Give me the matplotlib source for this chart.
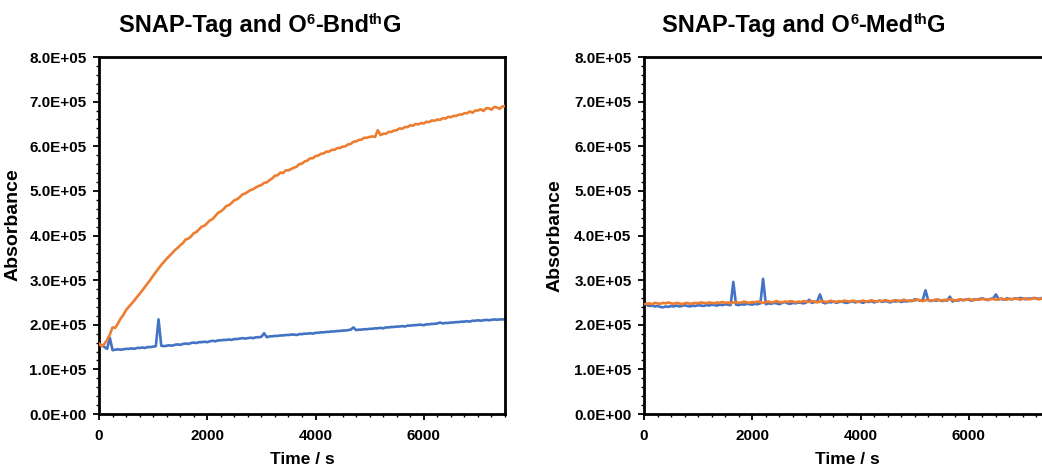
import numpy as np
import matplotlib
matplotlib.use("Agg")
import matplotlib.pyplot as plt
from matplotlib.ticker import MultipleLocator, FuncFormatter

plt.rcParams["font.family"] = ["Liberation Sans", "DejaVu Sans"]
plt.rcParams["font.weight"] = "bold"

# sampling times (s), one reading every 50 s
time_s = np.arange(0, 7501, 50)

# absorbance readings in thousands
bnd_blue = [
    158, 154, 150, 146, 171, 143, 144, 145, 144, 145,
    146, 146, 147, 146, 148, 148, 149, 148, 150, 150,
    151, 152, 212, 153, 152, 153, 154, 153, 155, 156,
    155, 157, 158, 157, 159, 160, 159, 161, 161, 162,
    161, 163, 164, 163, 165, 165, 166, 166, 167, 166,
    168, 168, 169, 170, 169, 170, 171, 170, 172, 172,
    173, 181, 172, 174, 174, 175, 175, 176, 176, 177,
    177, 178, 178, 177, 179, 179, 180, 180, 181, 180,
    182, 182, 183, 183, 184, 184, 185, 185, 186, 186,
    187, 187, 188, 189, 194, 188, 189, 189, 190, 190,
    191, 191, 192, 192, 193, 192, 194, 194, 195, 195,
    196, 196, 197, 196, 198, 198, 199, 199, 200, 200,
    199, 201, 201, 202, 202, 203, 205, 203, 204, 204,
    205, 205, 206, 206, 207, 207, 208, 207, 209, 209,
    210, 209, 210, 211, 210, 211, 212, 211, 212, 212,
    212,
]
bnd_orange = [
    158, 152, 157, 166, 178, 194, 193, 203, 214, 222,
    233, 240, 247, 254, 262, 269, 277, 285, 293, 301,
    310, 318, 326, 334, 341, 348, 354, 360, 367, 372,
    378, 383, 391, 393, 398, 405, 408, 414, 420, 422,
    428, 434, 437, 444, 451, 454, 459, 466, 468, 473,
    479, 481, 486, 492, 494, 498, 502, 504, 508, 511,
    513, 518, 519, 524, 528, 534, 535, 541, 540, 546,
    546, 549, 552, 554, 560, 561, 566, 568, 573, 573,
    578, 579, 583, 584, 588, 588, 592, 592, 596, 596,
    599, 600, 604, 605, 610, 611, 614, 615, 619, 619,
    621, 622, 621, 636, 625, 628, 628, 632, 632, 635,
    636, 640, 639, 643, 643, 647, 646, 650, 649, 652,
    651, 655, 654, 658, 657, 660, 659, 663, 662, 666,
    665, 668, 668, 671, 671, 674, 674, 678, 675, 680,
    680, 683, 679, 685, 685, 682, 688, 687, 684, 689,
    690,
]
med_blue = [
    252, 244, 242, 243, 241, 242, 240, 239, 241, 240,
    242, 241, 243, 241, 242, 244, 242, 241, 243, 242,
    244, 243, 242, 244, 243, 245, 244, 243, 245, 244,
    246, 245, 244, 296, 245, 244, 246, 245, 247, 246,
    245, 247, 246, 248, 303, 246, 248, 247, 249, 248,
    246, 249, 251, 248, 247, 249, 248, 250, 249, 248,
    250, 256, 249, 251, 252, 268, 250, 248, 251, 250,
    252, 249, 251, 252, 250, 249, 251, 253, 250, 252,
    251, 249, 252, 251, 253, 250, 252, 254, 251, 253,
    252, 250, 253, 252, 254, 251, 253, 252, 254, 253,
    257, 256, 254, 256, 277, 255, 253, 255, 254, 256,
    253, 255, 254, 263, 252, 255, 254, 256, 255, 257,
    256, 254, 257, 256, 258, 259, 257, 256, 258, 259,
    268, 257, 258, 256, 259, 258, 257, 259, 258, 260,
    259, 257, 259, 258, 260, 259, 258, 260, 259, 258,
    259,
]
med_orange = [
    246, 247, 248, 246, 249, 248, 247, 249, 248, 250,
    248, 247, 249, 248, 246, 248, 249, 247, 248, 249,
    248, 250, 249, 248, 250, 249, 248, 250, 249, 251,
    249, 250, 248, 250, 251, 249, 250, 252, 250, 249,
    251, 250, 252, 251, 249, 251, 252, 250, 251, 253,
    251, 250, 252, 251, 253, 252, 250, 252, 251, 253,
    252, 251, 253, 252, 250, 252, 253, 251, 252, 254,
    252, 251, 253, 252, 254, 253, 252, 254, 253, 251,
    253, 254, 252, 253, 255, 253, 252, 254, 253, 255,
    254, 252, 254, 255, 253, 254, 256, 254, 253, 255,
    254, 256, 255, 253, 255, 256, 254, 255, 257, 255,
    254, 256, 255, 257, 256, 254, 256, 257, 255, 256,
    258, 256, 255, 257, 256, 258, 257, 255, 257, 258,
    256, 257, 259, 257, 256, 258, 257, 259, 258, 256,
    258, 259, 257, 258, 260, 258, 257, 259, 258, 257,
    259,
]

# title pieces: (text, superscript?)
title_bnd = [("SNAP-Tag and O", False), ("6", True), ("-Bnd", False), ("th", True), ("G", False)]
title_med = [("SNAP-Tag and O", False), ("6", True), ("-Med", False), ("th", True), ("G", False)]
blue = "#4472C4"
orange = "#ED7D31"

FIG_W, FIG_H = 1042, 465
fig = plt.figure(figsize=(FIG_W / 100, FIG_H / 100), dpi=100)
W, H = 406 / FIG_W, 357 / FIG_H
bottom = 1 - 414 / FIG_H
ax1 = fig.add_axes([99 / FIG_W, bottom, W, H])
ax2 = fig.add_axes([644 / FIG_W, bottom, W, H])

sci = FuncFormatter(lambda v, p: f"{v:.1E}")

panels = [(ax1, bnd_blue, bnd_orange), (ax2, med_blue, med_orange)]
for ax, b, o in panels:
    ax.plot(time_s, np.array(b) * 1e3, color=blue, lw=1.9, zorder=2)
    ax.plot(time_s, np.array(o) * 1e3, color=orange, lw=1.9, zorder=3)
    ax.set_xlim(0, 7500)
    ax.set_ylim(0, 8e5)
    ax.xaxis.set_major_locator(MultipleLocator(2000))
    ax.xaxis.set_minor_locator(MultipleLocator(250))
    ax.yaxis.set_major_locator(MultipleLocator(1e5))
    ax.yaxis.set_minor_locator(MultipleLocator(2e4))
    ax.yaxis.set_major_formatter(sci)
    for s in ax.spines.values():
        s.set_linewidth(2.0)
        s.set_color("black")
    ax.tick_params(which="major", direction="out", length=4, width=1.3,
                   labelsize=11, pad=5)
    ax.tick_params(which="minor", direction="out", length=2.5, width=1.0)
    ax.tick_params(axis="x", which="major", pad=7)
    for lab in ax.get_xticklabels() + ax.get_yticklabels():
        lab.set_fontweight("bold")
    ax.text(0.5, -0.140, "Time / s", transform=ax.transAxes, ha="center",
            va="baseline", fontsize=12.5, fontweight="bold")
    ax.set_ylabel("Absorbance", fontsize=14, fontweight="bold")

ax1.yaxis.set_label_coords(-0.190, 0.53)
ax2.yaxis.set_label_coords(-0.198, 0.50)


def rich_title(x_center_px, baseline_px, parts, size=17):
    """Lay out a bold title whose pieces may be superscripts."""
    renderer = fig.canvas.get_renderer()
    em = size * 100 / 72
    items = []
    for txt, sup in parts:
        fs = size * 0.62 if sup else size
        rise = 0.33 * em if sup else 0.0
        t = fig.text(0, 1 - (baseline_px - rise) / FIG_H, txt, fontsize=fs,
                     fontweight="bold", ha="left", va="baseline")
        items.append((t, t.get_window_extent(renderer).width))
    total = sum(w for _, w in items)
    x = x_center_px - total / 2
    for t, w in items:
        t.set_x(x / FIG_W)
        x += w


rich_title(260, 32, title_bnd)
rich_title(804, 32, title_med)

fig.savefig("out.png", dpi=100)
